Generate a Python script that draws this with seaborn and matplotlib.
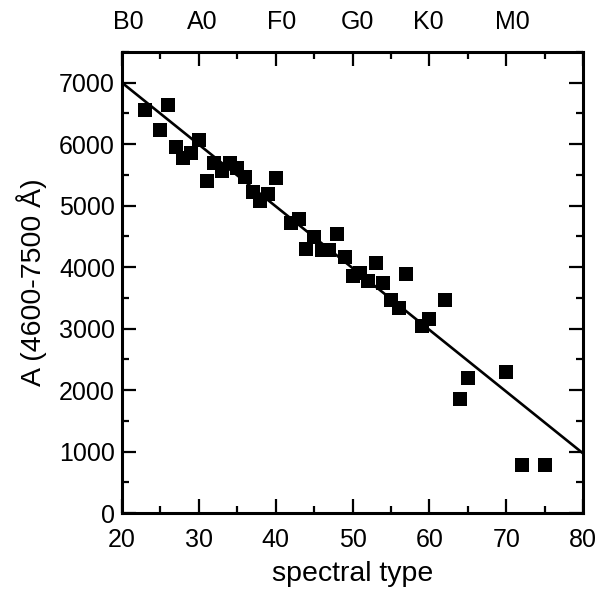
import matplotlib
matplotlib.use("Agg")
import pandas as pd
import seaborn as sns
from matplotlib import pyplot as plt

# spectral type index vs A (4600-7500 Å)
spectral_type = [23, 25, 26, 27, 28, 29, 30, 31, 32, 33, 34, 35, 36, 37, 38, 39, 40,
                 42, 43, 44, 45, 46, 47, 48, 49, 50, 51, 52, 53, 54, 55, 56, 57,
                 59, 60, 62, 64, 65, 70, 72, 75]
a_value = [6550, 6230, 6630, 5950, 5770, 5860, 6070, 5400, 5690, 5570, 5690, 5620,
           5460, 5220, 5080, 5190, 5450, 4720, 4780, 4290, 4490, 4280, 4280, 4540,
           4170, 3860, 3900, 3780, 4060, 3750, 3470, 3340, 3890, 3050, 3160, 3470,
           1850, 2190, 2290, 780, 780]

# linear fit shown in the figure
fit_x = [20, 80]
fit_y = [7000, 970]

# class labels along the top
class_names = ["B0", "A0", "F0", "G0", "K0", "M0"]
class_pos = [20.8, 30.4, 40.8, 50.6, 59.8, 70.8]

sns.set_style("ticks")
plt.rcParams["font.family"] = ["Liberation Sans", "DejaVu Sans"]
plt.rcParams["text.color"] = "black"
plt.rcParams["axes.labelcolor"] = "black"
plt.rcParams["xtick.color"] = "black"
plt.rcParams["ytick.color"] = "black"

df = pd.DataFrame({"x": spectral_type, "y": a_value})
fit = pd.DataFrame({"x": fit_x, "y": fit_y})

fig = plt.figure(figsize=(5.98, 5.97), dpi=100)
ax = fig.add_axes([0.204, 0.1407, 0.771, 0.7722])

sns.lineplot(data=fit, x="x", y="y", color="black", linewidth=1.9, ax=ax)
sns.scatterplot(data=df, x="x", y="y", marker="s", s=105, color="black",
                edgecolor="black", linewidth=0, ax=ax, zorder=3)

ax.set_xlim(20, 80)
ax.set_ylim(0, 7500)
ax.set_xticks(range(20, 81, 10))
ax.set_xticks(range(25, 80, 10), minor=True)
ax.set_yticks(range(0, 7001, 1000))
ax.set_yticks(range(500, 7501, 1000), minor=True)

ax.tick_params(which="both", direction="in", top=True, right=True, width=1.6,
               labelsize=18, color="black", labelcolor="black")
ax.tick_params(which="major", length=10)
ax.tick_params(which="minor", length=5)
ax.tick_params(axis="x", which="major", pad=11)
ax.tick_params(axis="y", which="major", pad=5)
for side in ax.spines.values():
    side.set_linewidth(2.2)
    side.set_color("black")

ax.set_xlabel("spectral type", fontsize=20.5, labelpad=6, color="black")
ax.set_ylabel("A (4600-7500 Å)", fontsize=20.5, labelpad=9, color="black")

for name, pos in zip(class_names, class_pos):
    ax.text(pos, 1.065, name, transform=ax.get_xaxis_transform(),
            ha="center", va="center", fontsize=18, color="black")

fig.savefig("out.png", dpi=100)
